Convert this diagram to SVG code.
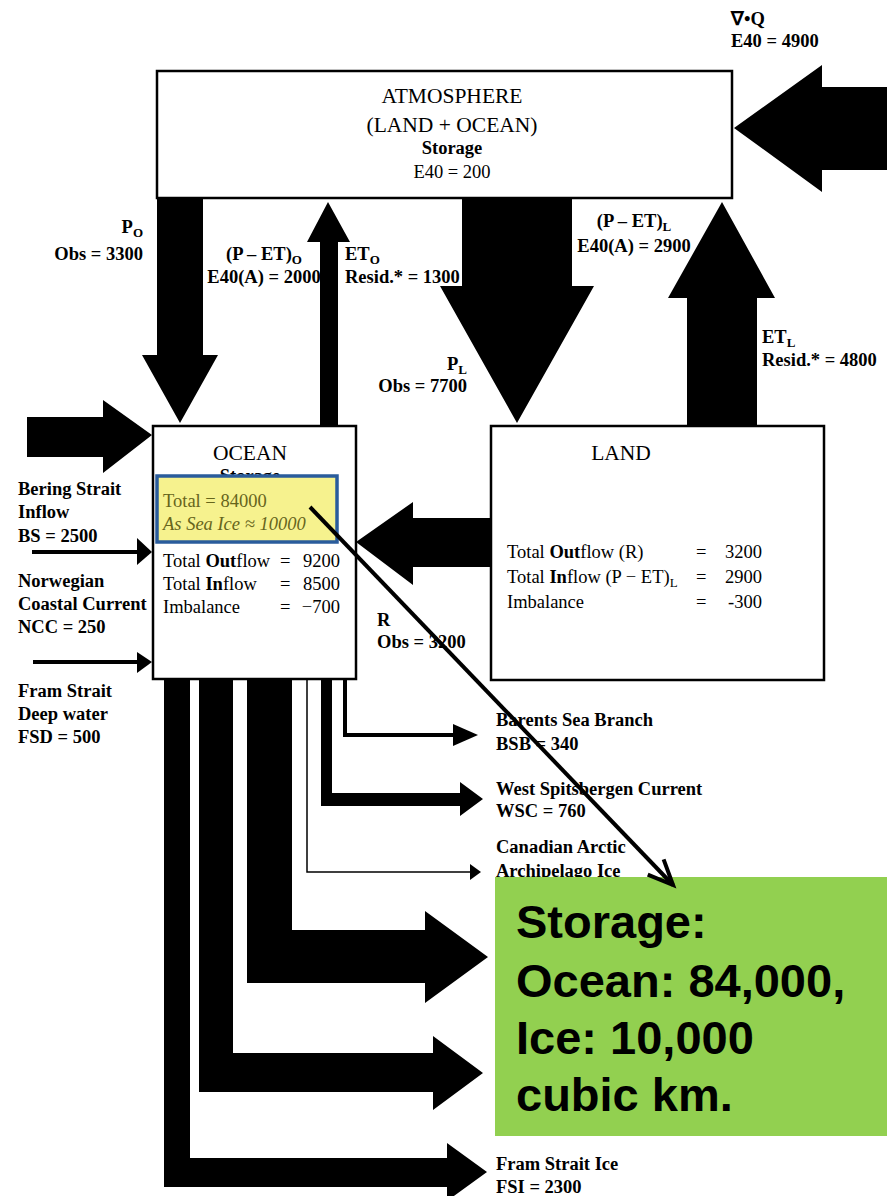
<svg xmlns="http://www.w3.org/2000/svg" width="887" height="1196" viewBox="0 0 887 1196">
<style>
.b{font-family:"Liberation Serif","Times New Roman",serif;font-weight:bold;font-size:18.5px;fill:#000}
.r{font-family:"Liberation Serif","Times New Roman",serif;font-size:18.5px;fill:#000}
.h{font-family:"Liberation Serif","Times New Roman",serif;font-size:21.5px;fill:#000}
.box{fill:#fff;stroke:#000;stroke-width:2.5}
.sub{font-size:13px}
.ol{fill:#66651c}
.big{font-family:"Liberation Sans",Arial,sans-serif;font-weight:bold;font-size:47px;fill:#000}
.ar{fill:#000}
.ln{fill:none;stroke:#000}
</style>
<defs>
<marker id="vhead" markerUnits="userSpaceOnUse" markerWidth="40" markerHeight="40" viewBox="-30 -20 40 40" refX="0" refY="0" orient="auto">
<path d="M-25,-11 L0,0 L-25,11" fill="none" stroke="#000" stroke-width="4" stroke-linejoin="miter"/>
</marker>
</defs>
<rect width="887" height="1196" fill="#fff"/>

<g id="connectors">
<polygon class="ar" points="887,87 822,87 822,65 734,128 822,192 822,170 887,170"/>
<polygon class="ar" points="157,198 203,198 203,355 218,355 180,423 142,355 157,355"/>
<polygon class="ar" points="320,428 320,242 307,242 328,202 350,242 338,242 338,428"/>
<polygon class="ar" points="462,198 572,198 572,286 594,286 517,423 440,286 462,286"/>
<polygon class="ar" points="687,428 687,298 668,298 722,202 775,298 757,298 757,428"/>
<polygon class="ar" points="27,417 103,417 103,400 152,435 103,473 103,457 27,457"/>
<line class="ln" x1="32" y1="552" x2="138" y2="552" stroke-width="4"/>
<polygon class="ar" points="137,538 152,552 137,565"/>
<line class="ln" x1="33" y1="662" x2="138" y2="662" stroke-width="4"/>
<polygon class="ar" points="137,652 152,662 137,673"/>
<polygon class="ar" points="492,518 413,518 413,502 356,542 413,585 413,567 492,567"/>
<polygon class="ar" points="164,679 190,679 190,1158 447,1158 447,1143 487,1172 447,1201 447,1187 164,1187"/>
<polygon class="ar" points="199,679 233,679 233,1053 433,1053 433,1036 483,1073 433,1110 433,1092 199,1092"/>
<polygon class="ar" points="247,679 292,679 292,930 425,930 425,911 488,957 425,1003 425,983 247,983"/>
<polyline class="ln" points="307,679 307,872 471,872" stroke-width="1.5"/>
<polygon class="ar" points="470,864 481,872 470,880"/>
<polygon class="ar" points="321,679 332,679 332,793 460,793 460,782 483,799 460,816 460,806 321,806"/>
<polyline class="ln" points="345,679 345,735 455,735" stroke-width="4"/>
<polygon class="ar" points="453,724 478,735 453,746"/>
</g>

<g id="flow-labels">
<text class="b" x="731" y="25">∇•Q</text>
<text class="b" x="731" y="47">E40 = 4900</text>
<text class="b" x="143" y="233" text-anchor="end">P<tspan class="sub" dy="4">O</tspan></text>
<text class="b" x="143" y="260" text-anchor="end">Obs = 3300</text>
<text class="b" x="264" y="260" text-anchor="middle">(P – ET)<tspan class="sub" dy="4">O</tspan></text>
<text class="b" x="264" y="283" text-anchor="middle">E40(A) = 2000</text>
<text class="b" x="345" y="260">ET<tspan class="sub" dy="4">O</tspan></text>
<text class="b" x="345" y="283">Resid.* = 1300</text>
<text class="b" x="467" y="370" text-anchor="end">P<tspan class="sub" dy="4">L</tspan></text>
<text class="b" x="467" y="392" text-anchor="end">Obs = 7700</text>
<text class="b" x="634" y="227" text-anchor="middle">(P – ET)<tspan class="sub" dy="4">L</tspan></text>
<text class="b" x="634" y="252" text-anchor="middle">E40(A) = 2900</text>
<text class="b" x="762" y="343">ET<tspan class="sub" dy="4">L</tspan></text>
<text class="b" x="762" y="366">Resid.* = 4800</text>
<text class="b" x="18" y="495">Bering Strait</text>
<text class="b" x="18" y="518">Inflow</text>
<text class="b" x="18" y="542">BS = 2500</text>
<text class="b" x="18" y="587">Norwegian</text>
<text class="b" x="18" y="610">Coastal Current</text>
<text class="b" x="18" y="633">NCC = 250</text>
<text class="b" x="18" y="697">Fram Strait</text>
<text class="b" x="18" y="720">Deep water</text>
<text class="b" x="18" y="743">FSD = 500</text>
<text class="b" x="377" y="626">R</text>
<text class="b" x="377" y="648">Obs = 3200</text>
<text class="b" x="496" y="726">Barents Sea Branch</text>
<text class="b" x="496" y="750">BSB = 340</text>
<text class="b" x="496" y="795">West Spitsbergen Current</text>
<text class="b" x="496" y="817">WSC = 760</text>
<text class="b" x="496" y="853">Canadian Arctic</text>
<text class="b" x="496" y="877">Archipelago Ice</text>
<text class="b" x="496" y="1170">Fram Strait Ice</text>
<text class="b" x="496" y="1193">FSI = 2300</text>
</g>

<g id="atmosphere">
<rect class="box" x="157" y="71" width="575" height="127"/>
<text class="h" x="452" y="103" text-anchor="middle">ATMOSPHERE</text>
<text class="h" x="452" y="132" text-anchor="middle">(LAND + OCEAN)</text>
<text class="b" x="452" y="154" text-anchor="middle">Storage</text>
<text class="r" x="452" y="178" text-anchor="middle">E40 = 200</text>
</g>

<g id="ocean">
<rect class="box" x="153" y="426" width="203" height="253"/>
<text class="h" x="250" y="460" text-anchor="middle">OCEAN</text>
<text class="b" x="250" y="482" text-anchor="middle">Storage</text>
<rect x="157" y="476" width="180" height="66" fill="#f6f28e" stroke="#2a5c9c" stroke-width="3.5"/>
<text class="r ol" x="163" y="507">Total = 84000</text>
<text class="r ol" x="163" y="530" font-style="italic">As Sea Ice ≈ 10000</text>
<text class="r" x="163" y="567">Total <tspan font-weight="bold">Out</tspan>flow</text>
<text class="r" x="163" y="590">Total <tspan font-weight="bold">In</tspan>flow</text>
<text class="r" x="163" y="613">Imbalance</text>
<text class="r" x="280" y="567">=</text>
<text class="r" x="280" y="590">=</text>
<text class="r" x="280" y="613">=</text>
<text class="r" x="340" y="567" text-anchor="end">9200</text>
<text class="r" x="340" y="590" text-anchor="end">8500</text>
<text class="r" x="340" y="613" text-anchor="end">−700</text>
</g>

<g id="land">
<rect class="box" x="491" y="426" width="333" height="254"/>
<text class="h" x="621" y="460" text-anchor="middle">LAND</text>
<text class="r" x="507" y="558">Total <tspan font-weight="bold">Out</tspan>flow (R)</text>
<text class="r" x="507" y="583">Total <tspan font-weight="bold">In</tspan>flow (P − ET)<tspan class="sub" dy="4">L</tspan></text>
<text class="r" x="507" y="608">Imbalance</text>
<text class="r" x="696" y="558">=</text>
<text class="r" x="696" y="583">=</text>
<text class="r" x="696" y="608">=</text>
<text class="r" x="762" y="558" text-anchor="end">3200</text>
<text class="r" x="762" y="583" text-anchor="end">2900</text>
<text class="r" x="762" y="608" text-anchor="end">-300</text>
</g>

<g id="storage-note">
<rect x="495" y="877" width="392" height="259" fill="#92d050"/>
<text class="big" x="516" y="938">Storage:</text>
<text class="big" x="516" y="997">Ocean: 84,000,</text>
<text class="big" x="516" y="1054">Ice: 10,000</text>
<text class="big" x="516" y="1111">cubic km.</text>
</g>

<g id="pointer">
<line x1="310" y1="507" x2="673" y2="885" stroke="#000" stroke-width="4" marker-end="url(#vhead)"/>
</g>
</svg>
